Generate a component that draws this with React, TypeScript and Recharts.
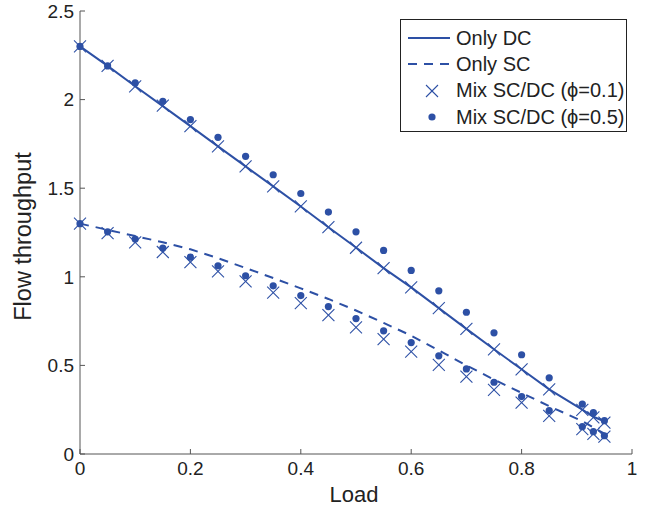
import { ComposedChart, Legend, Line, Scatter, XAxis, YAxis } from 'recharts'

const BLUE = '#2d50a5'
const AXIS = '#555555'
const FONT = '"Liberation Sans", Arial, sans-serif'

const loads = [0, 0.05, 0.1, 0.15, 0.2, 0.25, 0.3, 0.35, 0.4, 0.45, 0.5, 0.55, 0.6, 0.65, 0.7, 0.75, 0.8, 0.85, 0.91, 0.93, 0.95]
const onlyDC = [2.3, 2.19, 2.075, 1.963, 1.85, 1.736, 1.623, 1.51, 1.397, 1.28, 1.165, 1.049, 0.94, 0.823, 0.706, 0.591, 0.478, 0.365, 0.25, 0.21, 0.185]
const onlySC = [1.3, 1.265, 1.23, 1.195, 1.155, 1.105, 1.05, 0.993, 0.935, 0.875, 0.81, 0.74, 0.668, 0.585, 0.5, 0.42, 0.345, 0.27, 0.185, 0.15, 0.115]
const mix01Upper = [2.3, 2.19, 2.075, 1.966, 1.85, 1.736, 1.623, 1.51, 1.397, 1.28, 1.164, 1.049, 0.94, 0.823, 0.706, 0.591, 0.478, 0.365, 0.249, 0.207, 0.177]
const mix01Lower = [1.3, 1.247, 1.194, 1.14, 1.083, 1.03, 0.974, 0.911, 0.851, 0.784, 0.714, 0.648, 0.578, 0.503, 0.437, 0.362, 0.29, 0.215, 0.14, 0.113, 0.098]
const mix05Upper = [2.3, 2.19, 2.094, 1.99, 1.887, 1.787, 1.68, 1.576, 1.47, 1.365, 1.254, 1.149, 1.036, 0.921, 0.8, 0.684, 0.56, 0.43, 0.282, 0.233, 0.188]
const mix05Lower = [1.3, 1.254, 1.213, 1.162, 1.111, 1.062, 1.006, 0.949, 0.894, 0.832, 0.764, 0.695, 0.629, 0.554, 0.48, 0.405, 0.324, 0.245, 0.154, 0.126, 0.103]

const xTicks = [0, 0.2, 0.4, 0.6, 0.8, 1]
const yTicks = [0, 0.5, 1, 1.5, 2, 2.5]

const legendItems = [
  { name: 'Only DC', kind: 'solid' },
  { name: 'Only SC', kind: 'dashed' },
  { name: 'Mix SC/DC (\u03d5=0.1)', kind: 'cross' },
  { name: 'Mix SC/DC (\u03d5=0.5)', kind: 'dot' },
]

const data = loads.map((load, i) => ({
  load,
  onlyDC: onlyDC[i],
  onlySC: onlySC[i],
  mix01Upper: mix01Upper[i],
  mix01Lower: mix01Lower[i],
  mix05Upper: mix05Upper[i],
  mix05Lower: mix05Lower[i],
}))

const TICK_MARGIN = 6
const DASH = '9 7'

function Cross(props: any) {
  const { cx, cy } = props
  const s = 6
  return (
    <g stroke={BLUE} strokeWidth={1.1}>
      <line x1={cx - s} y1={cy - s} x2={cx + s} y2={cy + s} />
      <line x1={cx - s} y1={cy + s} x2={cx + s} y2={cy - s} />
    </g>
  )
}

function Dot(props: any) {
  const { cx, cy } = props
  return <circle cx={cx} cy={cy} r={3.6} fill={BLUE} />
}

function XTick(props: any) {
  const { x, y, payload } = props
  const axisY = y - TICK_MARGIN
  return (
    <g>
      <line x1={x} y1={axisY} x2={x} y2={axisY - 5} stroke={AXIS} />
      <text x={x} y={y + 2} dy="0.71em" textAnchor="middle" fontSize={19} fill="#222" fontFamily={FONT}>
        {payload.value}
      </text>
    </g>
  )
}

function YTick(props: any) {
  const { x, y, payload } = props
  const axisX = x + TICK_MARGIN
  return (
    <g>
      <line x1={axisX} y1={y} x2={axisX + 5} y2={y} stroke={AXIS} />
      <text x={x} y={y} dy="0.36em" textAnchor="end" fontSize={19} fill="#222" fontFamily={FONT}>
        {payload.value}
      </text>
    </g>
  )
}

function XLabel(props: any) {
  const { viewBox } = props
  const cx = viewBox.x + viewBox.width / 2
  return (
    <text x={cx - 2} y={viewBox.y + viewBox.height - 4} textAnchor="middle" fontSize={22} fill="#222" fontFamily={FONT}>
      Load
    </text>
  )
}

function YLabel(props: any) {
  const { viewBox } = props
  const cy = viewBox.y + viewBox.height / 2 + 4
  const bx = 31
  return (
    <text
      x={bx}
      y={cy}
      transform={`rotate(-90 ${bx} ${cy})`}
      textAnchor="middle"
      fontSize={23.5}
      fill="#222"
      fontFamily={FONT}
    >
      Flow throughput
    </text>
  )
}

function LegendIcon({ kind }: { kind: string }) {
  return (
    <svg width={52} height={24} style={{ flex: 'none' }}>
      {kind === 'solid' && <line x1={7} y1={12} x2={49} y2={12} stroke={BLUE} strokeWidth={2} />}
      {kind === 'dashed' && (
        <line x1={7} y1={12} x2={49} y2={12} stroke={BLUE} strokeWidth={2} strokeDasharray={DASH} />
      )}
      {kind === 'cross' && <Cross cx={31} cy={12} />}
      {kind === 'dot' && <Dot cx={31} cy={12} />}
    </svg>
  )
}

function LegendBox() {
  return (
    <div
      style={{
        boxSizing: 'border-box',
        width: 227,
        height: 113,
        border: '1px solid #222',
        background: '#fff',
        paddingTop: 5,
        fontFamily: FONT,
        fontSize: 20,
        color: '#222',
      }}
    >
      {legendItems.map((item) => (
        <div key={item.name} style={{ display: 'flex', alignItems: 'center', height: 26.3 }}>
          <LegendIcon kind={item.kind} />
          <span style={{ marginLeft: 3, whiteSpace: 'nowrap' }}>{item.name}</span>
        </div>
      ))}
    </div>
  )
}

export default function App() {
  return (
    <div style={{ position: 'absolute', left: 0, top: 0, background: '#fff' }}>
      <ComposedChart width={659} height={506} data={data} margin={{ top: 11, right: 27, bottom: 0, left: 0 }}>
        <XAxis
          dataKey="load"
          type="number"
          domain={[0, 1]}
          ticks={xTicks}
          tickSize={0}
          tickMargin={TICK_MARGIN}
          tick={<XTick />}
          height={52}
          stroke={AXIS}
          label={<XLabel />}
        />
        <YAxis
          type="number"
          domain={[0, 2.5]}
          ticks={yTicks}
          tickSize={0}
          tickMargin={TICK_MARGIN}
          tick={<YTick />}
          width={80}
          stroke={AXIS}
          label={<YLabel />}
        />
        <Line dataKey="onlyDC" type="linear" stroke={BLUE} strokeWidth={2} dot={false} isAnimationActive={false} />
        <Line
          dataKey="onlySC"
          type="linear"
          stroke={BLUE}
          strokeWidth={2}
          strokeDasharray={DASH}
          dot={false}
          isAnimationActive={false}
        />
        <Scatter dataKey="mix01Upper" shape={<Cross />} isAnimationActive={false} />
        <Scatter dataKey="mix01Lower" shape={<Cross />} isAnimationActive={false} />
        <Scatter dataKey="mix05Upper" shape={<Dot />} isAnimationActive={false} />
        <Scatter dataKey="mix05Lower" shape={<Dot />} isAnimationActive={false} />
        <Legend
          layout="vertical"
          align="center"
          verticalAlign="middle"
          content={<LegendBox />}
          wrapperStyle={{ left: 400, top: 19, width: 'auto' }}
        />
      </ComposedChart>
    </div>
  )
}
